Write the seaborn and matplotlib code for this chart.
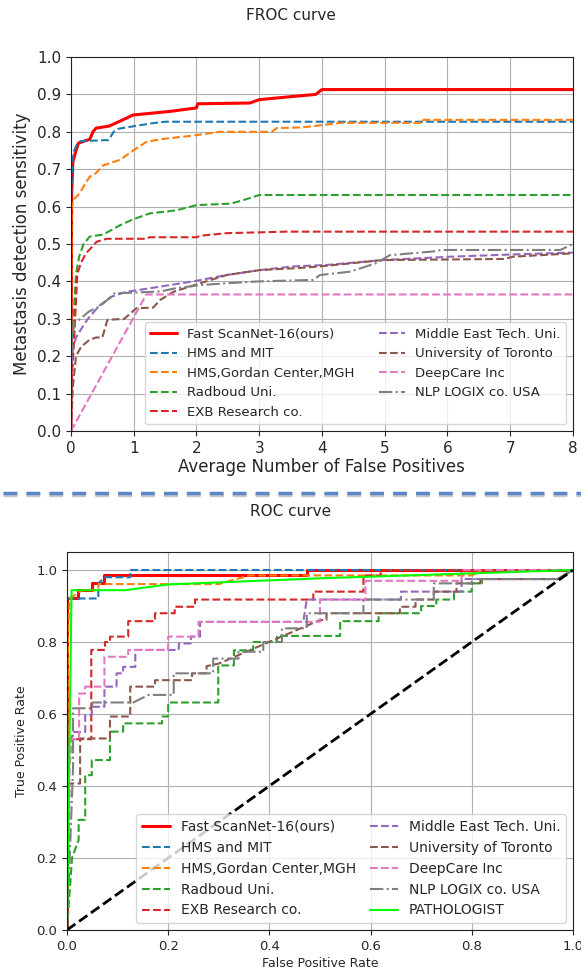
import numpy as np
import matplotlib
matplotlib.use("Agg")
import matplotlib.pyplot as plt
import seaborn as sns
from matplotlib.lines import Line2D

# ── Data: FROC (avg false positives, sensitivity) ─────────────────────────────
froc_fast_x = [0, 0.01, 0.03, 0.08, 0.12, 0.3, 0.35, 0.4, 0.6, 0.67, 0.8, 0.99, 1.3, 1.6, 2.0, 2.02, 2.85, 3.0, 3.5, 3.9, 4.0, 8]
froc_fast_y = [0, 0.63, 0.72, 0.75, 0.77, 0.78, 0.80, 0.81, 0.815, 0.82, 0.83, 0.845, 0.85, 0.855, 0.864, 0.875, 0.877, 0.886, 0.894, 0.90, 0.913, 0.913]

froc_mit_x = [0, 0.02, 0.05, 0.09, 0.15, 0.6, 0.68, 0.75, 1.0, 1.3, 1.5, 8]
froc_mit_y = [0.6, 0.72, 0.75, 0.765, 0.775, 0.778, 0.80, 0.808, 0.815, 0.823, 0.827, 0.827]

froc_mgh_x = [0, 0.01, 0.05, 0.14, 0.22, 0.3, 0.4, 0.51, 0.78, 0.99, 1.2, 1.42, 1.95, 2.37, 3.2, 3.28, 3.7, 4.0, 4.3, 5.6, 5.62, 8]
froc_mgh_y = [0, 0.6, 0.62, 0.636, 0.66, 0.68, 0.69, 0.71, 0.725, 0.75, 0.773, 0.78, 0.79, 0.80, 0.80, 0.81, 0.812, 0.818, 0.824, 0.824, 0.832, 0.832]

froc_radboud_x = [0, 0.05, 0.08, 0.13, 0.2, 0.3, 0.51, 0.78, 0.99, 1.26, 1.68, 2.0, 2.55, 2.74, 3.0, 8]
froc_radboud_y = [0.1, 0.33, 0.42, 0.466, 0.50, 0.52, 0.525, 0.55, 0.566, 0.582, 0.59, 0.604, 0.608, 0.617, 0.631, 0.631]

froc_exb_x = [0, 0.05, 0.1, 0.16, 0.24, 0.41, 0.57, 1.21, 1.25, 2.0, 2.06, 2.48, 3.44, 8]
froc_exb_y = [0.1, 0.243, 0.42, 0.45, 0.475, 0.506, 0.514, 0.514, 0.518, 0.518, 0.522, 0.529, 0.533, 0.533]

froc_metu_x = [0, 0.03, 0.08, 0.19, 0.27, 0.45, 0.66, 0.88, 1.2, 1.42, 1.95, 2.48, 3.0, 3.54, 4.08, 4.97, 6.04, 7.05, 8]
froc_metu_y = [0.15, 0.217, 0.25, 0.28, 0.30, 0.335, 0.36, 0.372, 0.38, 0.386, 0.40, 0.417, 0.43, 0.44, 0.444, 0.457, 0.466, 0.472, 0.477]

froc_toronto_x = [0, 0.03, 0.08, 0.16, 0.29, 0.4, 0.5, 0.58, 0.85, 1.04, 1.31, 1.42, 1.63, 2.06, 2.48, 3.0, 3.65, 3.97, 4.97, 6.9, 7.05, 8]
froc_toronto_y = [0, 0.118, 0.2, 0.225, 0.243, 0.25, 0.25, 0.297, 0.30, 0.328, 0.33, 0.35, 0.372, 0.395, 0.417, 0.43, 0.436, 0.44, 0.457, 0.46, 0.466, 0.475]

froc_deepcare_x = [0, 1.2, 8]
froc_deepcare_y = [0, 0.365, 0.365]

froc_nlp_x = [0, 0.03, 0.05, 0.13, 0.29, 0.45, 0.61, 0.69, 1.0, 1.42, 1.68, 2.06, 2.48, 3.0, 3.86, 3.97, 4.45, 4.87, 5.08, 5.77, 5.9, 7.8, 8]
froc_nlp_y = [0.2, 0.25, 0.29, 0.297, 0.32, 0.332, 0.355, 0.368, 0.37, 0.373, 0.382, 0.39, 0.395, 0.40, 0.404, 0.417, 0.426, 0.449, 0.47, 0.48, 0.484, 0.484, 0.50]

# ── Data: ROC (false positive rate, true positive rate) ───────────────────────
roc_fast_x = [0, 0, 0.022, 0.022, 0.049, 0.049, 0.074, 0.074, 0.474, 0.474, 1]
roc_fast_y = [0, 0.921, 0.921, 0.944, 0.944, 0.963, 0.963, 0.985, 0.985, 1.0, 1.0]

roc_mit_x = [0, 0, 0.062, 0.062, 0.075, 0.125, 0.125, 1]
roc_mit_y = [0, 0.921, 0.921, 0.963, 0.98, 0.98, 1.0, 1.0]

roc_mgh_x = [0, 0.002, 0.005, 0.03, 0.062, 0.062, 0.30, 0.36, 0.80, 0.82, 1]
roc_mgh_y = [0, 0.8, 0.921, 0.944, 0.944, 0.961, 0.961, 0.985, 0.985, 1.0, 1.0]

roc_radboud_x = [0, 0.01, 0.023, 0.023, 0.036, 0.036, 0.049, 0.049, 0.085, 0.085, 0.111, 0.111, 0.188, 0.188, 0.2, 0.2, 0.299,
                 0.299, 0.33, 0.33, 0.368, 0.368, 0.415, 0.415, 0.54, 0.54, 0.616, 0.616, 0.70, 0.70, 0.73, 0.73, 0.765,
                 0.765, 0.80, 0.80, 0.82, 0.82, 0.97, 1]
roc_radboud_y = [0, 0.2, 0.25, 0.306, 0.306, 0.43, 0.43, 0.472, 0.472, 0.551, 0.551, 0.574, 0.574, 0.593, 0.593, 0.632, 0.632,
                 0.735, 0.735, 0.777, 0.777, 0.80, 0.80, 0.817, 0.817, 0.858, 0.858, 0.88, 0.88, 0.90, 0.90, 0.918, 0.918,
                 0.94, 0.94, 0.963, 0.963, 0.975, 0.975, 1.0]

roc_exb_x = [0, 0.002, 0.048, 0.048, 0.075, 0.075, 0.085, 0.085, 0.121, 0.121, 0.174, 0.174, 0.213, 0.213, 0.253, 0.253,
             0.487, 0.487, 0.586, 0.586, 0.62, 0.62, 1]
roc_exb_y = [0, 0.53, 0.53, 0.778, 0.778, 0.80, 0.80, 0.815, 0.815, 0.858, 0.858, 0.88, 0.88, 0.898, 0.898, 0.918,
             0.918, 0.94, 0.94, 0.985, 0.985, 1.0, 1.0]

roc_metu_x = [0, 0.003, 0.012, 0.036, 0.036, 0.049, 0.049, 0.074, 0.074, 0.098, 0.098, 0.111, 0.111, 0.135, 0.135, 0.221,
              0.221, 0.245, 0.245, 0.263, 0.263, 0.467, 0.474, 0.66, 0.66, 0.78, 0.78, 0.97, 1]
roc_metu_y = [0, 0.5, 0.55, 0.55, 0.597, 0.597, 0.62, 0.62, 0.676, 0.676, 0.713, 0.713, 0.731, 0.731, 0.778, 0.778,
              0.796, 0.796, 0.815, 0.815, 0.856, 0.856, 0.918, 0.918, 0.94, 0.94, 0.975, 0.975, 1.0]

roc_toronto_x = [0, 0.005, 0.013, 0.026, 0.026, 0.085, 0.085, 0.125, 0.125, 0.142, 0.174, 0.174, 0.247, 0.247, 0.276, 0.276,
                 0.30, 0.50, 0.513, 0.513, 0.658, 0.658, 0.689, 0.689, 0.725, 0.725, 0.77, 0.77, 0.817, 0.817, 0.97, 1]
roc_toronto_y = [0, 0.407, 0.407, 0.407, 0.532, 0.532, 0.593, 0.593, 0.676, 0.676, 0.676, 0.694, 0.694, 0.713, 0.713, 0.733,
                 0.74, 0.861, 0.861, 0.88, 0.88, 0.898, 0.898, 0.918, 0.918, 0.94, 0.94, 0.963, 0.963, 0.975, 0.975, 1.0]

roc_deepcare_x = [0, 0.005, 0.01, 0.024, 0.024, 0.036, 0.036, 0.074, 0.074, 0.121, 0.121, 0.2, 0.2, 0.26, 0.26, 0.5,
                  0.5, 0.59, 0.59, 0.78, 0.78, 1]
roc_deepcare_y = [0, 0.45, 0.53, 0.53, 0.657, 0.657, 0.676, 0.676, 0.759, 0.759, 0.778, 0.778, 0.815, 0.815, 0.856, 0.856,
                  0.918, 0.918, 0.97, 0.97, 1.0, 1.0]

roc_nlp_x = [0, 0.012, 0.012, 0.05, 0.05, 0.131, 0.161, 0.211, 0.211, 0.289, 0.289, 0.339, 0.339, 0.388, 0.388, 0.425,
             0.425, 0.474, 0.474, 0.586, 0.586, 0.711, 0.725, 0.725, 0.80, 0.80, 0.97, 1]
roc_nlp_y = [0, 0.45, 0.616, 0.616, 0.632, 0.632, 0.653, 0.653, 0.713, 0.713, 0.754, 0.754, 0.773, 0.773, 0.80, 0.80,
             0.838, 0.838, 0.88, 0.88, 0.918, 0.918, 0.918, 0.963, 0.963, 0.975, 0.975, 1.0]

roc_path_x = [0, 0.009, 0.115, 0.2, 0.5, 1.0]
roc_path_y = [0, 0.944, 0.944, 0.96, 0.977, 1.0]

chance_x = [0, 1]
chance_y = [0, 1]

froc_series = [
    ("Fast ScanNet-16(ours)", froc_fast_x, froc_fast_y, "red", "-", 2.2),
    ("HMS and MIT", froc_mit_x, froc_mit_y, "tab:blue", "--", 1.5),
    ("HMS,Gordan Center,MGH", froc_mgh_x, froc_mgh_y, "tab:orange", "--", 1.5),
    ("Radboud Uni.", froc_radboud_x, froc_radboud_y, "tab:green", "--", 1.5),
    ("EXB Research co.", froc_exb_x, froc_exb_y, "tab:red", "--", 1.5),
    ("Middle East Tech. Uni.", froc_metu_x, froc_metu_y, "tab:purple", "--", 1.5),
    ("University of Toronto", froc_toronto_x, froc_toronto_y, "tab:brown", "--", 1.5),
    ("DeepCare Inc", froc_deepcare_x, froc_deepcare_y, "tab:pink", "--", 1.5),
    ("NLP LOGIX co. USA", froc_nlp_x, froc_nlp_y, "tab:gray", "-.", 1.5),
]

roc_series = [
    ("Fast ScanNet-16(ours)", roc_fast_x, roc_fast_y, "red", "-", 2.2),
    ("HMS and MIT", roc_mit_x, roc_mit_y, "tab:blue", "--", 1.5),
    ("HMS,Gordan Center,MGH", roc_mgh_x, roc_mgh_y, "tab:orange", "--", 1.5),
    ("Radboud Uni.", roc_radboud_x, roc_radboud_y, "tab:green", "--", 1.5),
    ("EXB Research co.", roc_exb_x, roc_exb_y, "tab:red", "--", 1.5),
    ("Middle East Tech. Uni.", roc_metu_x, roc_metu_y, "tab:purple", "--", 1.5),
    ("University of Toronto", roc_toronto_x, roc_toronto_y, "tab:brown", "--", 1.5),
    ("DeepCare Inc", roc_deepcare_x, roc_deepcare_y, "tab:pink", "--", 1.5),
    ("NLP LOGIX co. USA", roc_nlp_x, roc_nlp_y, "tab:gray", "-.", 1.5),
    ("PATHOLOGIST", roc_path_x, roc_path_y, "lime", "-", 1.5),
]

# ── Style ─────────────────────────────────────────────────────────────────────
sns.set_style("ticks", {"axes.grid": True, "grid.color": "#b0b0b0",
                        "axes.edgecolor": "#222222"})
plt.rcParams["font.family"] = ["DejaVu Sans"]
plt.rcParams["grid.linewidth"] = 0.8


def draw_curves(ax, series):
    for name, xs, ys, color, ls, lw in series:
        sns.lineplot(x=xs, y=ys, ax=ax, sort=False, estimator=None,
                     color=color, linestyle=ls, linewidth=lw, label=name)


fig = plt.figure(figsize=(5.81, 9.75), dpi=100)

# ── FROC panel ────────────────────────────────────────────────────────────────
ax1 = fig.add_axes([0.1222, 0.558, 0.8638, 0.3835])
draw_curves(ax1, froc_series)
ax1.set_xlim(0, 8)
ax1.set_ylim(0, 1.0)
ax1.set_xticks(range(0, 9))
ax1.set_yticks(np.round(np.arange(0, 1.01, 0.1), 1))
ax1.tick_params(labelsize=11)
ax1.set_xlabel("Average Number of False Positives", fontsize=12, labelpad=2)
ax1.set_ylabel("Metastasis detection sensitivity", fontsize=12, labelpad=4)
ax1.legend(ncol=2, loc="lower right", fontsize=9.5, framealpha=0.8,
           borderaxespad=0.5, columnspacing=1.8)
fig.text(0.5, 0.9846, "FROC curve", ha="center", va="center", fontsize=11)

# ── separator ─────────────────────────────────────────────────────────────────
fig.add_artist(Line2D([0.005, 1.0], [0.4925, 0.4925], transform=fig.transFigure,
                      color="#c8c8c8", lw=2.5, linestyle=(0, (4, 2.6))))
fig.add_artist(Line2D([0.005, 1.0], [0.4945, 0.4945], transform=fig.transFigure,
                      color="#5b87c9", lw=2.5, linestyle=(0, (4, 2.6))))

# ── ROC panel ─────────────────────────────────────────────────────────────────
ax2 = fig.add_axes([0.1153, 0.0462, 0.8707, 0.3876])
draw_curves(ax2, roc_series)
sns.lineplot(x=chance_x, y=chance_y, ax=ax2, color="black", linestyle="--",
             linewidth=2, sort=False, estimator=None)
ax2.set_xlim(0, 1.0)
ax2.set_ylim(0, 1.05)
ax2.set_xticks(np.round(np.arange(0, 1.01, 0.2), 1))
ax2.set_yticks(np.round(np.arange(0, 1.01, 0.2), 1))
ax2.tick_params(labelsize=9.5)
ax2.set_xlabel("False Positive Rate", fontsize=9, labelpad=3)
ax2.set_ylabel("True Positive Rate", fontsize=9, labelpad=6)
handles, labels = ax2.get_legend_handles_labels()
ax2.legend(handles[:10], labels[:10], ncol=2, loc="lower right", fontsize=10,
           framealpha=0.8, borderaxespad=0.5, columnspacing=1.0)
fig.text(0.5, 0.4749, "ROC curve", ha="center", va="center", fontsize=11)

fig.savefig("out.png", dpi=100)
plt.close(fig)
